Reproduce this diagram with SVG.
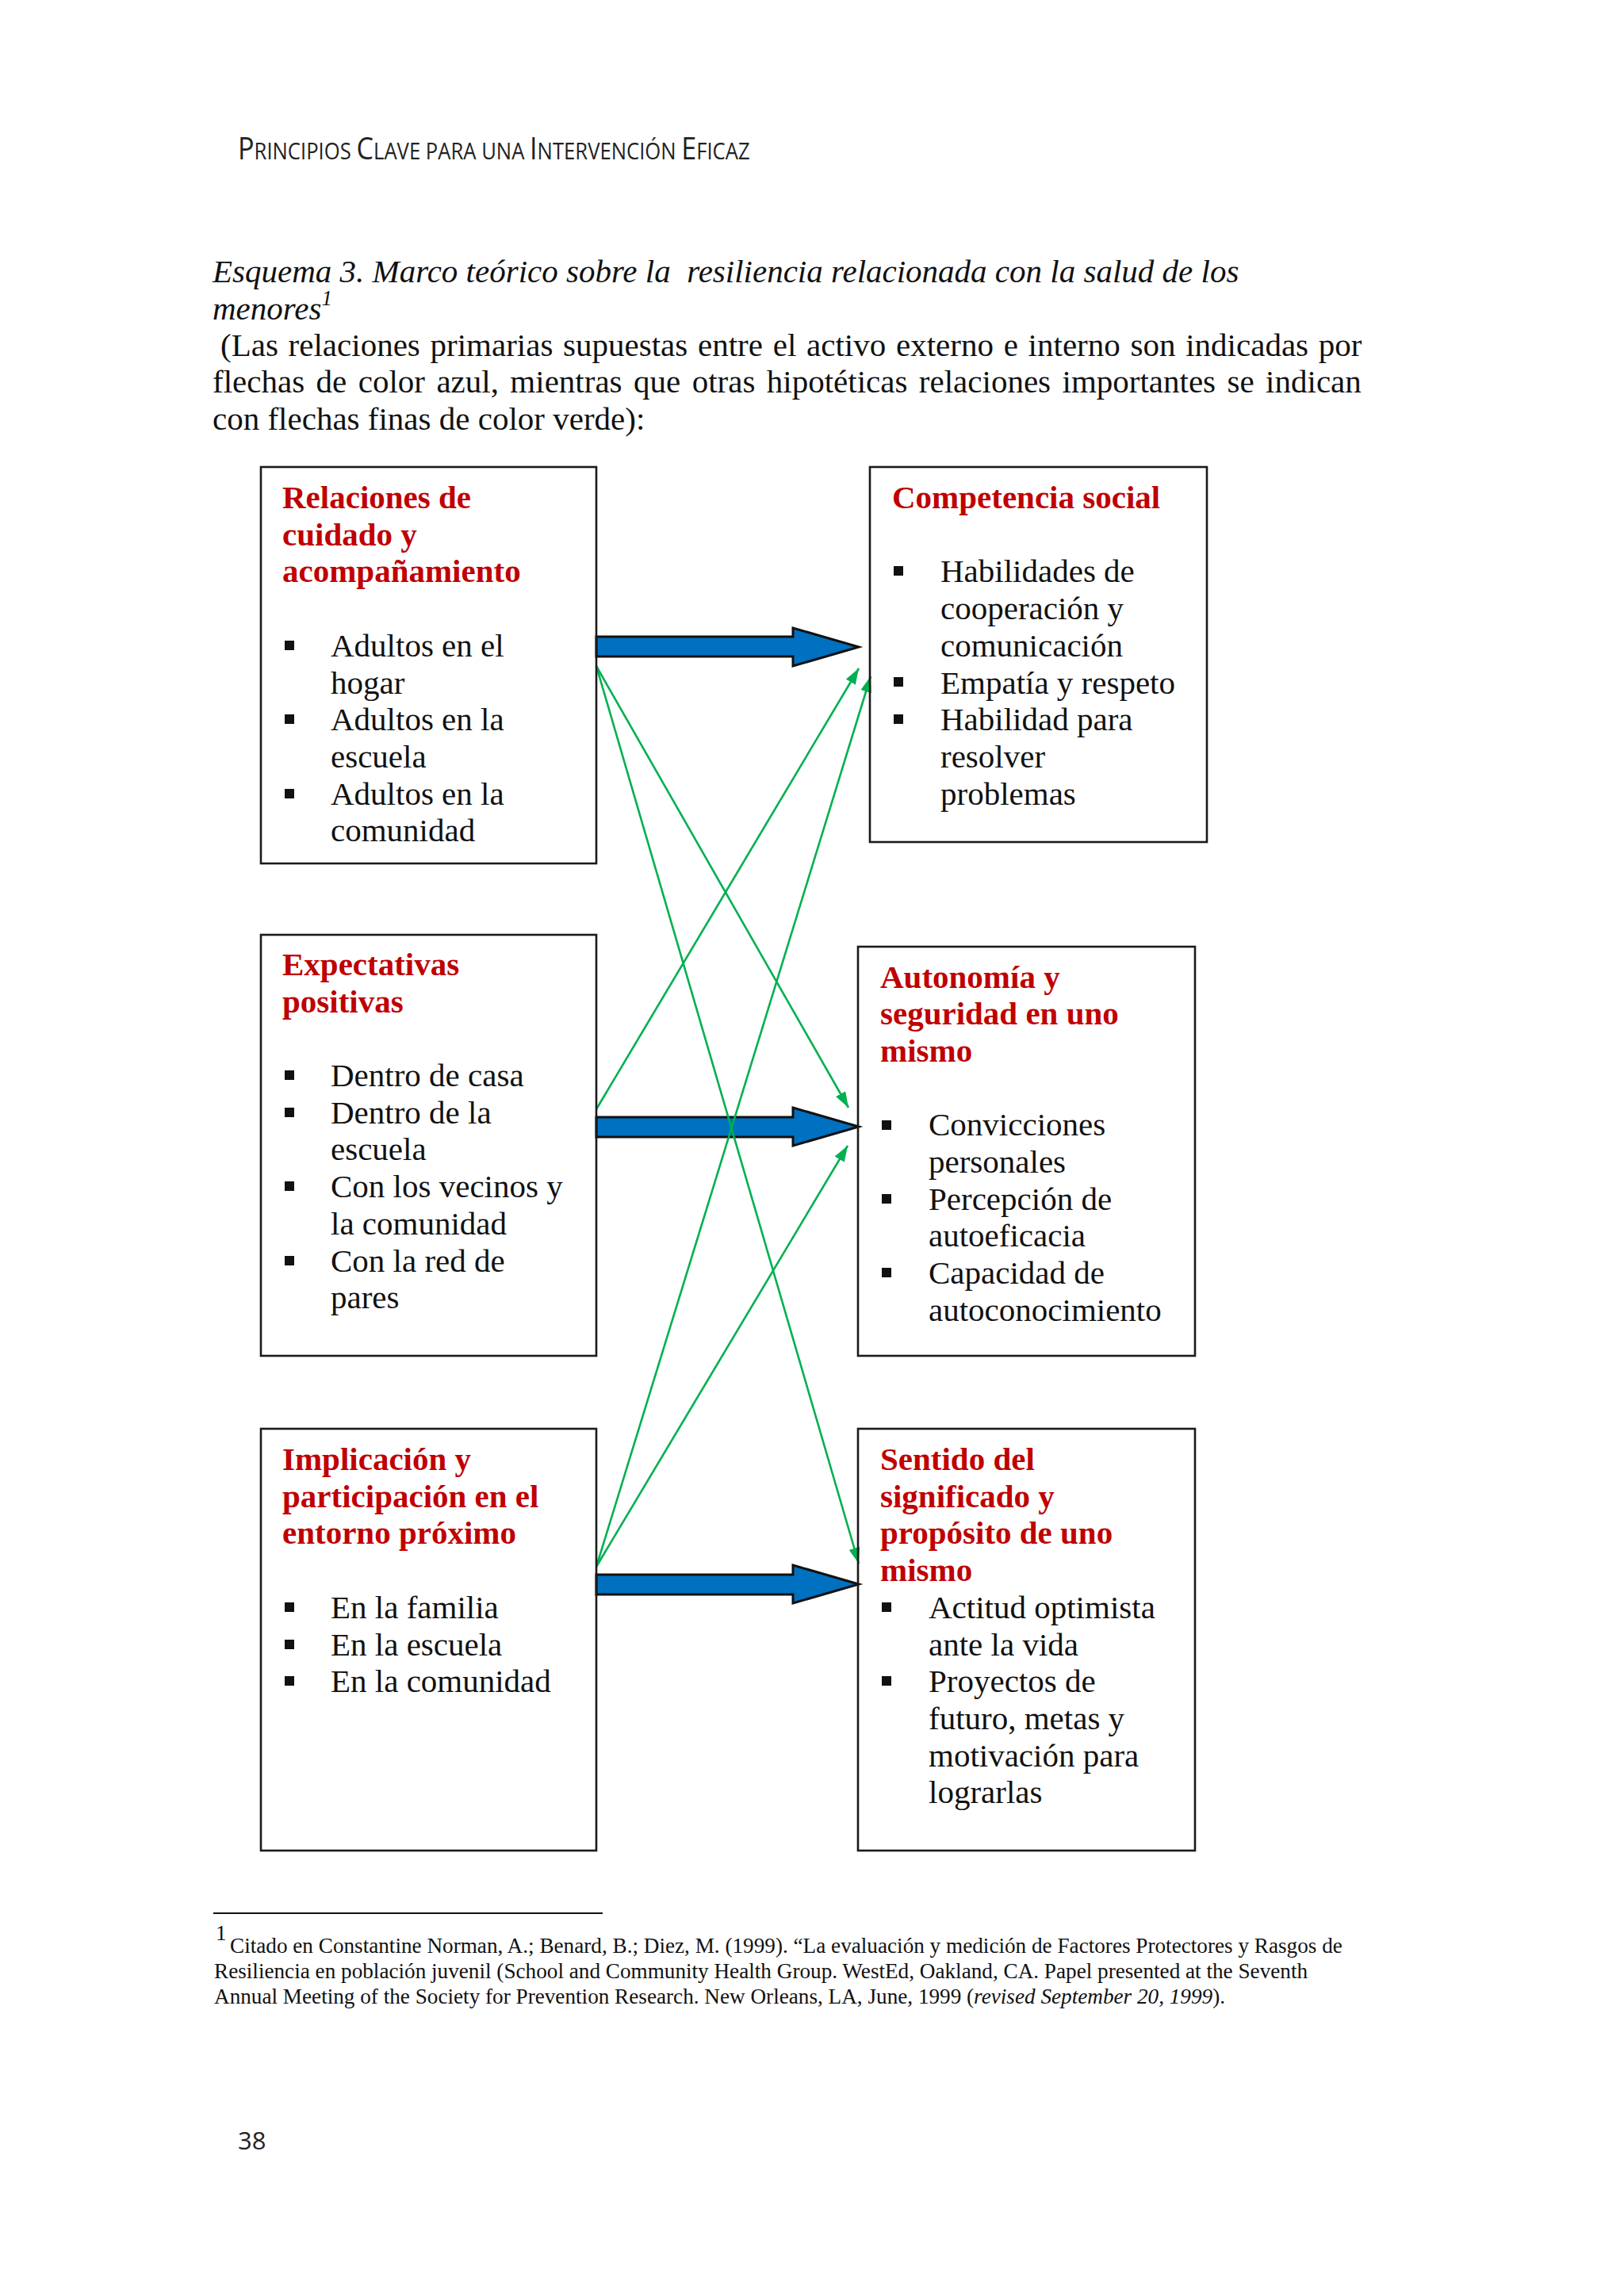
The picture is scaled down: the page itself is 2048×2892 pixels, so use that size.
<svg xmlns="http://www.w3.org/2000/svg" width="2048" height="2892" viewBox="0 0 2048 2892">
<style>
.hdr{font-family:"Open Sans","DejaVu Sans",sans-serif;fill:#222}
.cap{font-family:"Liberation Serif","Times New Roman",serif;font-size:41px;fill:#111}
.it{font-style:italic}
.box{fill:none;stroke:#1a1a1a;stroke-width:2.6}
.ttl{font-family:"Liberation Serif","Times New Roman",serif;font-size:41px;font-weight:bold;fill:#C00000}
.txt{font-family:"Liberation Serif","Times New Roman",serif;font-size:41px;fill:#111}
.bul{fill:#111}
.blue{fill:#0070C0;stroke:#111;stroke-width:3;stroke-linejoin:miter}
.green{stroke:#00B050;stroke-width:2.6;fill:none;marker-end:url(#ga)}
.fn{font-family:"Liberation Serif","Times New Roman",serif;font-size:27.2px;fill:#111}
</style>
<defs>
<marker id="ga" viewBox="0 0 20 14" refX="20" refY="7" markerWidth="20" markerHeight="14" markerUnits="userSpaceOnUse" orient="auto">
<path d="M0,0 L20,7 L0,14 z" fill="#00B050"/>
</marker>
</defs>
<rect width="2048" height="2892" fill="#ffffff"/>

<g id="header">
<text class="hdr" transform="translate(300,201) scale(0.9,1)" x="0" y="0"><tspan font-size="38">P</tspan><tspan font-size="28.5">RINCIPIOS </tspan><tspan font-size="38">C</tspan><tspan font-size="28.5">LAVE PARA UNA </tspan><tspan font-size="38">I</tspan><tspan font-size="28.5">NTERVENCIÓN </tspan><tspan font-size="38">E</tspan><tspan font-size="28.5">FICAZ</tspan></text>
</g>

<g id="caption">
<text class="cap it" x="268" y="356" xml:space="preserve">Esquema 3. Marco teórico sobre la  resiliencia relacionada con la salud de los</text>
<text class="cap it" x="268" y="403">menores<tspan font-size="27" dy="-18">1</tspan></text>
<text class="cap" x="278" y="449" word-spacing="2.5">(Las relaciones primarias supuestas entre el activo externo e interno son indicadas por</text>
<text class="cap" x="268" y="495" word-spacing="4.2">flechas de color azul, mientras que otras hipotéticas relaciones importantes se indican</text>
<text class="cap" x="268" y="542">con flechas finas de color verde):</text>
</g>

<g id="connectors">
<path class="blue" d="M752,803 L1000,803 L1000,792 L1083,816 L1000,840 L1000,828 L752,828 Z"/>
<path class="blue" d="M752,1409 L1000,1409 L1000,1397 L1083,1421 L1000,1445 L1000,1434 L752,1434 Z"/>
<path class="blue" d="M752,1986 L1000,1986 L1000,1974 L1083,1998 L1000,2022 L1000,2011 L752,2011 Z"/>
<line class="green" x1="752" y1="840" x2="1070" y2="1397"/>
<line class="green" x1="752" y1="840" x2="1083" y2="1972"/>
<line class="green" x1="752" y1="1399" x2="1083" y2="843"/>
<line class="green" x1="752" y1="1976" x2="1098" y2="853"/>
<line class="green" x1="752" y1="1976" x2="1069" y2="1445"/>
</g>

<g id="node-relaciones">
<rect class="box" x="329" y="589" width="423" height="500"/>
<text class="ttl"><tspan x="356" y="641">Relaciones de</tspan><tspan x="356" y="687.7">cuidado y</tspan><tspan x="356" y="734.4">acompañamiento</tspan></text>
<rect class="bul" x="359" y="808" width="12" height="12"/>
<rect class="bul" x="359" y="901" width="12" height="12"/>
<rect class="bul" x="359" y="995" width="12" height="12"/>
<text class="txt"><tspan x="417" y="827.8">Adultos en el</tspan><tspan x="417" y="874.5">hogar</tspan><tspan x="417" y="921.2">Adultos en la</tspan><tspan x="417" y="967.9">escuela</tspan><tspan x="417" y="1014.6">Adultos en la</tspan><tspan x="417" y="1061.3">comunidad</tspan></text>
</g>

<g id="node-competencia">
<rect class="box" x="1097" y="589" width="425" height="473"/>
<text class="ttl" x="1125" y="641">Competencia social</text>
<rect class="bul" x="1127" y="714" width="12" height="12"/>
<rect class="bul" x="1127" y="854" width="12" height="12"/>
<rect class="bul" x="1127" y="901" width="12" height="12"/>
<text class="txt"><tspan x="1186" y="734.4">Habilidades de</tspan><tspan x="1186" y="781.1">cooperación y</tspan><tspan x="1186" y="827.8">comunicación</tspan><tspan x="1186" y="874.5">Empatía y respeto</tspan><tspan x="1186" y="921.2">Habilidad para</tspan><tspan x="1186" y="967.9">resolver</tspan><tspan x="1186" y="1014.6">problemas</tspan></text>
</g>

<g id="node-expectativas">
<rect class="box" x="329" y="1179" width="423" height="531"/>
<text class="ttl"><tspan x="356" y="1230">Expectativas</tspan><tspan x="356" y="1276.7">positivas</tspan></text>
<rect class="bul" x="359" y="1350" width="12" height="12"/>
<rect class="bul" x="359" y="1397" width="12" height="12"/>
<rect class="bul" x="359" y="1490" width="12" height="12"/>
<rect class="bul" x="359" y="1584" width="12" height="12"/>
<text class="txt"><tspan x="417" y="1370">Dentro de casa</tspan><tspan x="417" y="1416.7">Dentro de la</tspan><tspan x="417" y="1463.4">escuela</tspan><tspan x="417" y="1510.1">Con los vecinos y</tspan><tspan x="417" y="1556.8">la comunidad</tspan><tspan x="417" y="1603.5">Con la red de</tspan><tspan x="417" y="1650.2">pares</tspan></text>
</g>

<g id="node-autonomia">
<rect class="box" x="1082" y="1194" width="425" height="516"/>
<text class="ttl"><tspan x="1110" y="1245.5">Autonomía y</tspan><tspan x="1110" y="1292.2">seguridad en uno</tspan><tspan x="1110" y="1338.9">mismo</tspan></text>
<rect class="bul" x="1112" y="1413" width="12" height="12"/>
<rect class="bul" x="1112" y="1506" width="12" height="12"/>
<rect class="bul" x="1112" y="1599" width="12" height="12"/>
<text class="txt"><tspan x="1171" y="1432.3">Convicciones</tspan><tspan x="1171" y="1479">personales</tspan><tspan x="1171" y="1525.7">Percepción de</tspan><tspan x="1171" y="1572.4">autoeficacia</tspan><tspan x="1171" y="1619.1">Capacidad de</tspan><tspan x="1171" y="1665.8">autoconocimiento</tspan></text>
</g>

<g id="node-implicacion">
<rect class="box" x="329" y="1802" width="423" height="532"/>
<text class="ttl"><tspan x="356" y="1854">Implicación y</tspan><tspan x="356" y="1900.7">participación en el</tspan><tspan x="356" y="1947.4">entorno próximo</tspan></text>
<rect class="bul" x="359" y="2021" width="12" height="12"/>
<rect class="bul" x="359" y="2068" width="12" height="12"/>
<rect class="bul" x="359" y="2114" width="12" height="12"/>
<text class="txt"><tspan x="417" y="2040.8">En la familia</tspan><tspan x="417" y="2087.5">En la escuela</tspan><tspan x="417" y="2134.2">En la comunidad</tspan></text>
</g>

<g id="node-sentido">
<rect class="box" x="1082" y="1802" width="425" height="532"/>
<text class="ttl"><tspan x="1110" y="1854">Sentido del</tspan><tspan x="1110" y="1900.7">significado y</tspan><tspan x="1110" y="1947.4">propósito de uno</tspan><tspan x="1110" y="1994.1">mismo</tspan></text>
<rect class="bul" x="1112" y="2021" width="12" height="12"/>
<rect class="bul" x="1112" y="2114" width="12" height="12"/>
<text class="txt"><tspan x="1171" y="2040.8">Actitud optimista</tspan><tspan x="1171" y="2087.5">ante la vida</tspan><tspan x="1171" y="2134.2">Proyectos de</tspan><tspan x="1171" y="2180.9">futuro, metas y</tspan><tspan x="1171" y="2227.6">motivación para</tspan><tspan x="1171" y="2274.3">lograrlas</tspan></text>
</g>

<g id="footnote">
<line x1="269" y1="2413" x2="760" y2="2413" stroke="#111" stroke-width="2"/>
<text class="fn" x="272" y="2447" font-size="17">1</text>
<text class="fn" x="290" y="2463">Citado en Constantine Norman, A.; Benard, B.; Diez, M. (1999). “La evaluación y medición de Factores Protectores y Rasgos de</text>
<text class="fn" x="270" y="2495">Resiliencia en población juvenil (School and Community Health Group. WestEd, Oakland, CA. Papel presented at the Seventh</text>
<text class="fn" x="270" y="2527">Annual Meeting of the Society for Prevention Research. New Orleans, LA, June, 1999 (<tspan font-style="italic">revised September 20, 1999</tspan>).</text>
</g>

<g id="page-number">
<text class="hdr" x="300" y="2711" font-size="31">38</text>
</g>
</svg>
